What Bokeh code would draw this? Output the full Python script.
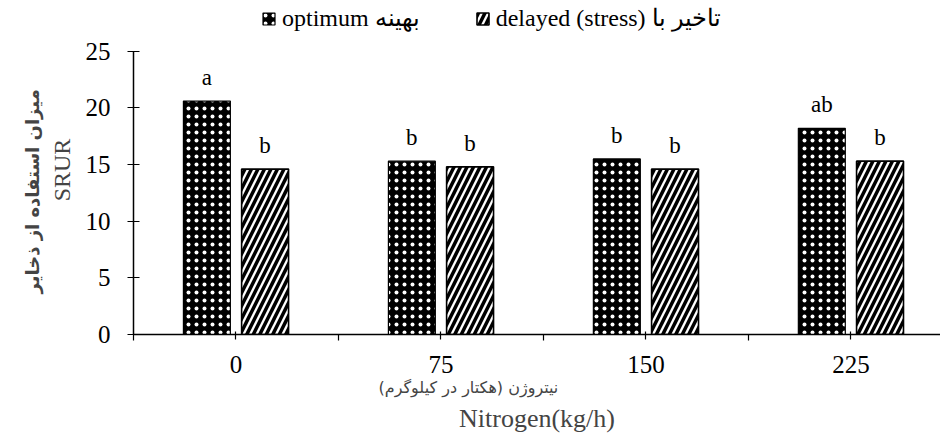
from bokeh.plotting import figure
from bokeh.models import (ColumnDataSource, Range1d, FixedTicker, Legend, LegendItem, Title)
from bokeh.transform import dodge
from bokeh.core.properties import value
from bokeh.embed import file_html
from bokeh.resources import INLINE

# ---- data ----
nitrogen = ["0", "75", "150", "225"]
optimum = [20.6, 15.3, 15.5, 18.2]
delayed = [14.6, 14.8, 14.6, 15.3]
letters_opt = ["a", "b", "b", "ab"]
letters_del = ["b", "b", "b", "b"]
series_names = ["optimum بهینه", "delayed (stress) تاخیر با"]
y_ticks = [0, 5, 10, 15, 20, 25]
y_label_fa = "میزان استفاده از ذخایر"
y_label_en = "SRUR"
x_label_fa = "(هکتار در کیلوگرم) نیتروژن"
x_label_en = "Nitrogen(kg/h)"

idx = list(range(len(nitrogen)))
src = ColumnDataSource(dict(x=idx, opt=optimum, dl=delayed, lo=letters_opt, ld=letters_del))

SERIF = "Liberation Serif"

p = figure(width=940, height=448, output_backend="svg", toolbar_location=None,
           x_range=Range1d(-0.5, 3.437), y_range=Range1d(0, 29.04),
           min_border_left=133, min_border_right=0, min_border_top=5, min_border_bottom=114)
p.outline_line_color = None
p.xgrid.visible = False
p.ygrid.visible = False

W = 0.229
OFF = 0.142
r1 = p.vbar(x=dodge("x", -OFF), top="opt", width=W, source=src,
            fill_color="black", line_color="black", line_width=1.2,
            hatch_pattern="dot", hatch_color="white", hatch_scale=8, hatch_weight=0.1)
r2 = p.vbar(x=dodge("x", OFF), top="dl", width=W, source=src,
            fill_color="white", line_color="black", line_width=1.6,
            hatch_pattern="right_diagonal_line", hatch_color="black", hatch_scale=13, hatch_weight=3.5)

p.text(x=dodge("x", -OFF), y="opt", text="lo", source=src, y_offset=-11,
       text_align="center", text_baseline="bottom", text_font=value(SERIF),
       text_font_size="23px", text_color="black")
p.text(x=dodge("x", OFF), y="dl", text="ld", source=src, y_offset=-11,
       text_align="center", text_baseline="bottom", text_font=value(SERIF),
       text_font_size="23px", text_color="black")

# axes
xa = p.xaxis[0]
xa.ticker = FixedTicker(ticks=idx, minor_ticks=[i + 0.5 for i in range(-1, len(nitrogen))])
xa.major_label_overrides = {i: n for i, n in zip(idx, nitrogen)}
xa.major_tick_in = 3
xa.major_tick_out = 5
xa.minor_tick_in = 0
xa.minor_tick_out = 6
xa.axis_line_width = 1.5
xa.major_tick_line_width = 1.2
xa.minor_tick_line_width = 1.2
xa.major_label_text_font = SERIF
xa.major_label_text_font_size = "25px"
xa.major_label_text_color = "black"
xa.major_label_standoff = 15

ya = p.yaxis[0]
ya.ticker = FixedTicker(ticks=y_ticks)
ya.bounds = (y_ticks[0], y_ticks[-1])
ya.minor_tick_line_color = None
ya.major_tick_in = 6
ya.major_tick_out = 6
ya.axis_line_width = 1.5
ya.major_tick_line_width = 1.2
ya.major_label_text_font = SERIF
ya.major_label_text_font_size = "25px"
ya.major_label_text_color = "black"
ya.major_label_standoff = 17
ya.axis_label = y_label_en
ya.axis_label_text_font = SERIF
ya.axis_label_text_font_style = "normal"
ya.axis_label_text_font_size = "24px"
ya.axis_label_standoff = 8

p.add_layout(Title(text=y_label_fa, align="left", offset=41, text_font="DejaVu Sans",
                   text_font_size="18px", text_font_style="bold", standoff=6), "left")
p.add_layout(Title(text=x_label_fa, align="left", offset=245, text_font="DejaVu Sans",
                   text_font_size="16px", text_font_style="normal", standoff=0), "below")
p.add_layout(Title(text=x_label_en, align="center", text_font=SERIF,
                   text_font_size="26px", text_font_style="normal", standoff=10), "below")

legend = Legend(items=[LegendItem(label=series_names[0], renderers=[r1]),
                       LegendItem(label=series_names[1], renderers=[r2])],
                orientation="horizontal", location=(128, 302),
                glyph_width=15, glyph_height=15, spacing=55, padding=0,
                label_standoff=6, border_line_color=None, background_fill_alpha=0)
legend.label_text_font = SERIF
legend.label_text_font_size = "24px"
legend.label_text_color = "black"
p.add_layout(legend)

open("out.html", "w").write(file_html(p, INLINE))
